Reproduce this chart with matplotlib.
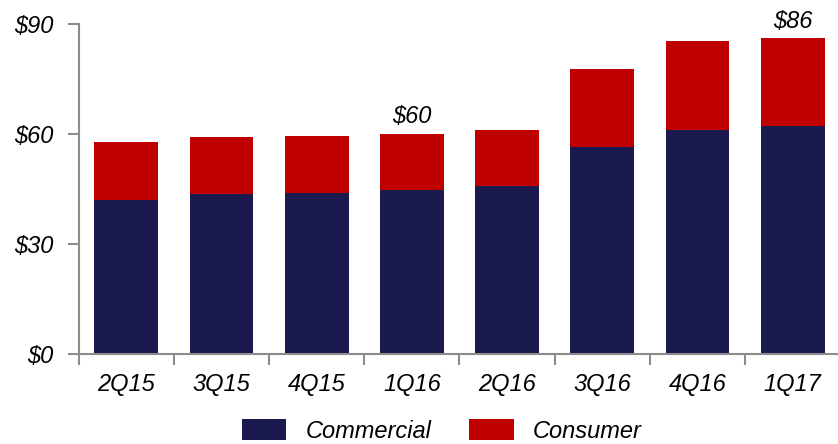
import matplotlib.pyplot as plt
import numpy as np

quarters = ["2Q15", "3Q15", "4Q15", "1Q16", "2Q16", "3Q16", "4Q16", "1Q17"]
commercial = [42.1, 43.5, 43.8, 44.6, 45.8, 56.5, 61.1, 62.2]
consumer = [15.8, 15.8, 15.7, 15.5, 15.3, 21.2, 24.3, 23.9]
total_labels = {3: "$60", 7: "$86"}
y_ticks = [0, 30, 60, 90]

navy = "#1b1a4e"
red = "#c00000"
grey = "#8c8c8c"

plt.rcParams["font.family"] = ["Liberation Sans", "DejaVu Sans"]

fig = plt.figure(figsize=(8.38, 4.44), dpi=100)
ax = fig.add_axes([0.0938, 0.2027, 0.909, 0.7433])

x = np.arange(len(quarters))
ax.bar(x, commercial, width=0.67, color=navy, label="Commercial")
ax.bar(x, consumer, width=0.67, bottom=commercial, color=red, label="Consumer")

for i, txt in total_labels.items():
    top = commercial[i] + consumer[i]
    ax.annotate(txt, (x[i], top), xytext=(0, 4), textcoords="offset points",
                ha="center", va="bottom", fontsize=17, style="italic")

ax.set_xlim(-0.5, len(quarters) - 0.5)
ax.set_ylim(0, 90)
ax.set_yticks(y_ticks)
ax.set_yticklabels([f"${v}" for v in y_ticks], fontsize=17, style="italic")
ax.set_xticks(x)
ax.set_xticklabels(quarters, fontsize=17, style="italic")
ax.set_xticks(np.arange(-0.5, len(quarters) + 0.5, 1), minor=True)
ax.tick_params(axis="x", which="major", length=0, pad=14)
ax.tick_params(axis="x", which="minor", length=8, color=grey, width=1.5, direction="out")
ax.tick_params(axis="y", length=8, color=grey, width=1.5, pad=10)

for s in ["top", "right"]:
    ax.spines[s].set_visible(False)
for s in ["left", "bottom"]:
    ax.spines[s].set_color(grey)
    ax.spines[s].set_linewidth(1.5)

leg = fig.legend(loc="upper center", bbox_to_anchor=(0.527, 0.077), ncol=2,
                 frameon=False, prop={"size": 17, "style": "italic"},
                 handlelength=1.9, handleheight=1.0, columnspacing=1.6,
                 handletextpad=0.8, borderaxespad=0)

fig.savefig("out.png", dpi=100)
